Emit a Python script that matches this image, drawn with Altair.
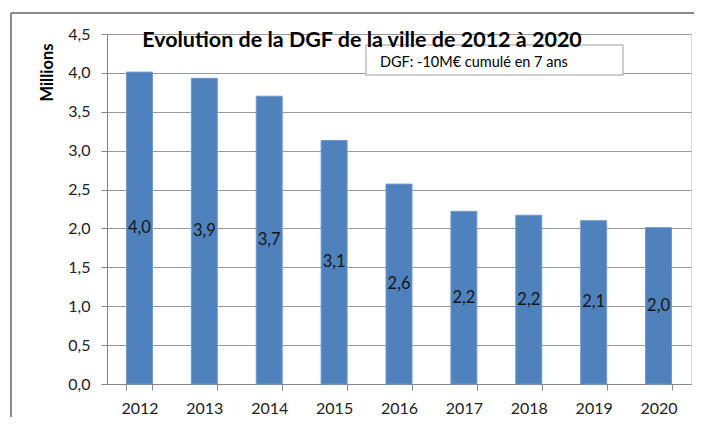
import altair as alt
import pandas as pd

years = ["2012", "2013", "2014", "2015", "2016", "2017", "2018", "2019", "2020"]
dgf = [4.01, 3.93, 3.70, 3.13, 2.57, 2.22, 2.17, 2.10, 2.01]
y_ticks = [0.0, 0.5, 1.0, 1.5, 2.0, 2.5, 3.0, 3.5, 4.0, 4.5]
title_text = "Evolution de la DGF de la ville de 2012 à 2020"
note_text = "DGF: -10M€ cumulé en 7 ans"
y_title = "Millions"

df = pd.DataFrame({"year": years, "value": dgf})

FONT = "Lato"
W, H = 584, 350

xscale = alt.Scale(paddingInner=0.6, paddingOuter=0.3)
xaxis = alt.Axis(labelAngle=0, labelFontSize=16, labelFont=FONT,
                 labelColor="#222222", labelPadding=10.5,
                 tickBand="extent", tickSize=6, tickColor="#888888",
                 domainColor="#888888", grid=False)

yscale = alt.Scale(domain=[0, 4.5], nice=False)
yaxis = alt.Axis(values=y_ticks, labelExpr="replace(format(datum.value, '.1f'), '.', ',')",
                 labelOverlap=False,
                 labelFontSize=16, labelFont=FONT, labelColor="#222222",
                 labelPadding=11, tickSize=6, tickColor="#888888",
                 domainColor="#888888", gridColor="#9a9a9a",
                 titleFont=FONT, titleFontSize=16.5,
                 titleFontWeight="bold", titleColor="#000000",
                 titleAngle=270, titleX=-60, titleY=38,
                 titleAlign="center", titleBaseline="middle")

base = alt.Chart(df).transform_calculate(
    mid="datum.value / 2",
    lab="replace(format(datum.value, '.1f'), '.', ',')",
)

bars = base.mark_bar(color="#4F81BD", stroke="#6E98CC", strokeWidth=1).encode(
    x=alt.X("year:N", sort=years, title=None, scale=xscale, axis=xaxis),
    y=alt.Y("value:Q", scale=yscale, axis=yaxis, title=y_title),
)

labels = base.mark_text(font=FONT, fontSize=16.5, color="#151515", baseline="middle").encode(
    x=alt.X("year:N", sort=years, title=None, scale=xscale, axis=xaxis),
    y=alt.Y("mid:Q", scale=yscale, axis=yaxis, title=y_title),
    text="lab:N",
)

one = alt.Data(values=[{"k": 1}])

frame_top = alt.Chart(one).mark_rule(stroke="#8a8a8a", strokeWidth=2).encode(
    x=alt.value(-96), x2=alt.value(800), y=alt.value(-21))
frame_left = alt.Chart(one).mark_rule(stroke="#8a8a8a", strokeWidth=2).encode(
    x=alt.value(-96), y=alt.value(-21), y2=alt.value(500))

box = alt.Chart(one).mark_rect(fill="white", stroke="#bfbfbf", strokeWidth=1.5).encode(
    x=alt.value(259), x2=alt.value(516), y=alt.value(11), y2=alt.value(41))

title = alt.Chart(one).mark_text(text=title_text, font=FONT, fontSize=21.5,
                                 fontWeight="bold", color="#000000",
                                 baseline="middle", align="center").encode(
    x=alt.value(255), y=alt.value(7))

note = alt.Chart(one).mark_text(text=note_text, font=FONT, fontSize=14.5,
                                color="#000000", baseline="middle", align="left").encode(
    x=alt.value(273), y=alt.value(29))

chart = alt.layer(frame_top, frame_left, bars, labels, box, title, note).properties(
    width=W, height=H,
    autosize=alt.AutoSizeParams(type="none"),
    padding={"left": 99, "top": 26, "right": 3, "bottom": 33},
).configure_view(strokeWidth=0).configure(background="white")

chart.save("out.html", embed_options={"renderer": "svg", "actions": False})
